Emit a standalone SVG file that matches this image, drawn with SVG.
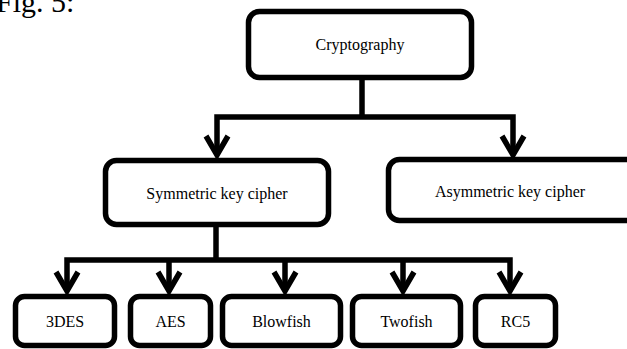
<svg xmlns="http://www.w3.org/2000/svg" width="627" height="349" viewBox="0 0 627 349">
<style>
.box{fill:#fff;stroke:#000;stroke-width:5.5}
.ln{fill:none;stroke:#000;stroke-width:5.5;stroke-linejoin:miter}
.ah{fill:none;stroke:#000;stroke-width:5.5;stroke-linejoin:miter;stroke-linecap:butt}
.t{font-family:"Liberation Serif",Tinos,"DejaVu Serif",serif;font-size:16px;fill:#000;text-anchor:middle}
.fig{font-family:"Liberation Serif",Tinos,"DejaVu Serif",serif;font-size:30px;fill:#000}
</style>
<rect width="627" height="349" fill="#fff"/>
<text class="fig" x="-4" y="12">Fig. 5:</text>
<g id="connectors">
<path class="ln" d="M362 78 V117"/>
<path class="ln" d="M217 155 V117 H513 V155"/>
<path class="ah" d="M206 136 L217 155 L228 136"/>
<path class="ah" d="M502 136 L513 155 L524 136"/>
<path class="ln" d="M216 227 V260"/>
<path class="ln" d="M67 291 V260 H510 V291"/>
<path class="ln" d="M169 260 V291 M285 260 V291 M403 260 V291"/>
<path class="ah" d="M56 272 L67 291 L78 272"/>
<path class="ah" d="M158 272 L169 291 L180 272"/>
<path class="ah" d="M274 272 L285 291 L296 272"/>
<path class="ah" d="M392 272 L403 291 L414 272"/>
<path class="ah" d="M499 272 L510 291 L521 272"/>
</g>
<g id="cryptography">
<rect class="box" x="248.5" y="11.5" width="223" height="66" rx="11"/>
<text class="t" x="360" y="50">Cryptography</text>
</g>
<g id="symmetric">
<rect class="box" x="105.5" y="160.5" width="223" height="64" rx="11"/>
<text class="t" x="217" y="199">Symmetric key cipher</text>
</g>
<g id="asymmetric">
<rect class="box" x="388.5" y="159.5" width="262" height="61" rx="11"/>
<text class="t" x="510" y="197">Asymmetric key cipher</text>
</g>
<g id="des3">
<rect class="box" x="15.5" y="296.5" width="99" height="49" rx="9"/>
<text class="t" x="65" y="327">3DES</text>
</g>
<g id="aes">
<rect class="box" x="130.5" y="296.5" width="80" height="49" rx="9"/>
<text class="t" x="170.5" y="327">AES</text>
</g>
<g id="blowfish">
<rect class="box" x="222.5" y="296.5" width="118" height="49" rx="9"/>
<text class="t" x="281.5" y="327">Blowfish</text>
</g>
<g id="twofish">
<rect class="box" x="352.5" y="296.5" width="108" height="49" rx="9"/>
<text class="t" x="406.5" y="327">Twofish</text>
</g>
<g id="rc5">
<rect class="box" x="475.5" y="296.5" width="80" height="49" rx="9"/>
<text class="t" x="515.5" y="327">RC5</text>
</g>
</svg>
